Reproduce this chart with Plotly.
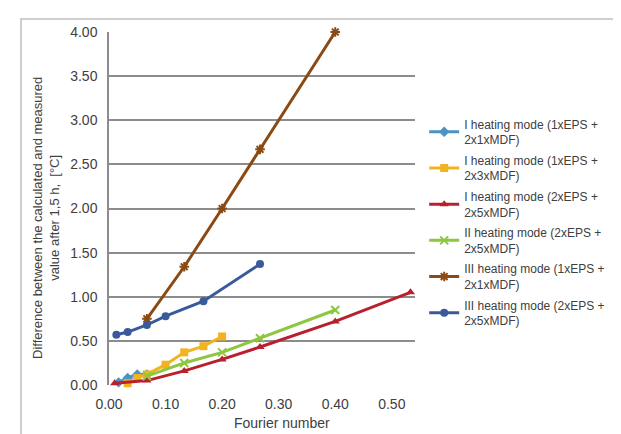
import plotly.graph_objects as go

# ---- data ----
names = [
    "I heating mode (1xEPS +<br>2x1xMDF)",
    "I heating mode (1xEPS +<br>2x3xMDF)",
    "I heating mode (2xEPS +<br>2x5xMDF)",
    "II heating mode (2xEPS +<br>2x5xMDF)",
    "III heating mode (1xEPS +<br>2x1xMDF)",
    "III heating mode (2xEPS +<br>2x5xMDF)",
]
x_s1 = [0.017, 0.033, 0.05, 0.067]
y_s1 = [0.03, 0.08, 0.12, 0.12]
x_s2 = [0.033, 0.05, 0.067, 0.1, 0.133, 0.167, 0.2]
y_s2 = [0.02, 0.08, 0.12, 0.23, 0.37, 0.44, 0.55]
x_s3 = [0.01, 0.067, 0.133, 0.2, 0.267, 0.4, 0.533]
y_s3 = [0.02, 0.05, 0.16, 0.29, 0.43, 0.72, 1.05]
x_s4 = [0.067, 0.133, 0.2, 0.267, 0.4]
y_s4 = [0.1, 0.25, 0.37, 0.53, 0.85]
x_s5 = [0.067, 0.133, 0.2, 0.267, 0.4]
y_s5 = [0.75, 1.34, 2.0, 2.67, 4.0]
x_s6 = [0.013, 0.033, 0.067, 0.1, 0.167, 0.267]
y_s6 = [0.57, 0.6, 0.68, 0.78, 0.95, 1.37]

colors = ["#4A93C4", "#F2B320", "#B8202E", "#8DC63F", "#8B4A14", "#3A5A9C"]
symbols = ["diamond", "square", "triangle-up", "x-thin-open", "asterisk-open", "circle"]
xs = [x_s1, x_s2, x_s3, x_s4, x_s5, x_s6]
ys = [y_s1, y_s2, y_s3, y_s4, y_s5, y_s6]

x_ticks = [0.0, 0.1, 0.2, 0.3, 0.4, 0.5]
y_ticks = [0.0, 0.5, 1.0, 1.5, 2.0, 2.5, 3.0, 3.5, 4.0]

fig = go.Figure()
for i in range(6):
    sym = symbols[i]
    mk = dict(symbol=sym, size=8, color=colors[i])
    if "open" in sym:
        mk["line"] = dict(width=2, color=colors[i])
    fig.add_trace(go.Scatter(
        x=xs[i], y=ys[i], name=names[i], mode="lines+markers",
        line=dict(color=colors[i], width=3),
        marker=mk, legendgroup=str(i), cliponaxis=False,
    ))

fig.update_layout(
    width=621, height=434,
    margin=dict(l=101, r=214, t=24, b=57),
    paper_bgcolor="white", plot_bgcolor="white",
    font=dict(family="Liberation Sans, Arial, sans-serif", color="#404040"),
    showlegend=True,
    legend=dict(x=1.03, y=0.78, xanchor="left", yanchor="top",
                font=dict(size=12, color="#404040"),
                tracegroupgap=2, itemwidth=30),
    xaxis=dict(range=[0, 0.541], tickvals=x_ticks, tickformat=".2f",
               showgrid=False, zeroline=False, showline=False,
               ticks="", ticklabelstandoff=9,
               tickfont=dict(size=14, color="#404040")),
    yaxis=dict(range=[0, 4.0], tickvals=y_ticks, tickformat=".2f",
               showgrid=True, gridcolor="#8C8C8C", gridwidth=1.5,
               zeroline=False, showline=True, linecolor="#8C8C8C", linewidth=1.5,
               ticks="", ticklen=0, ticklabelstandoff=7,
               tickfont=dict(size=14, color="#404040")),
    annotations=[
        dict(text="Fourier number", xref="paper", yref="paper",
             x=(274 - 101) / 306, y=(377 - 415) / 353, xanchor="center", yanchor="middle",
             showarrow=False, font=dict(size=14, color="#404040")),
        dict(text="Difference between the calculated and measured<br>value after 1,5 h,  [°C]",
             xref="paper", yref="paper", x=(38 - 101) / 306, y=(377 - 210) / 353,
             xanchor="center", yanchor="middle", textangle=-90,
             showarrow=False, font=dict(size=13, color="#404040")),
    ],
    shapes=[
        dict(type="rect", xref="paper", yref="paper",
             x0=(13 - 101) / 306, y0=(377 - 460) / 353,
             x1=(660 - 101) / 306, y1=(377 - 11) / 353,
             line=dict(color="#BFBFBF", width=1.5), layer="below"),
    ],
)

fig.write_html("out.html")
